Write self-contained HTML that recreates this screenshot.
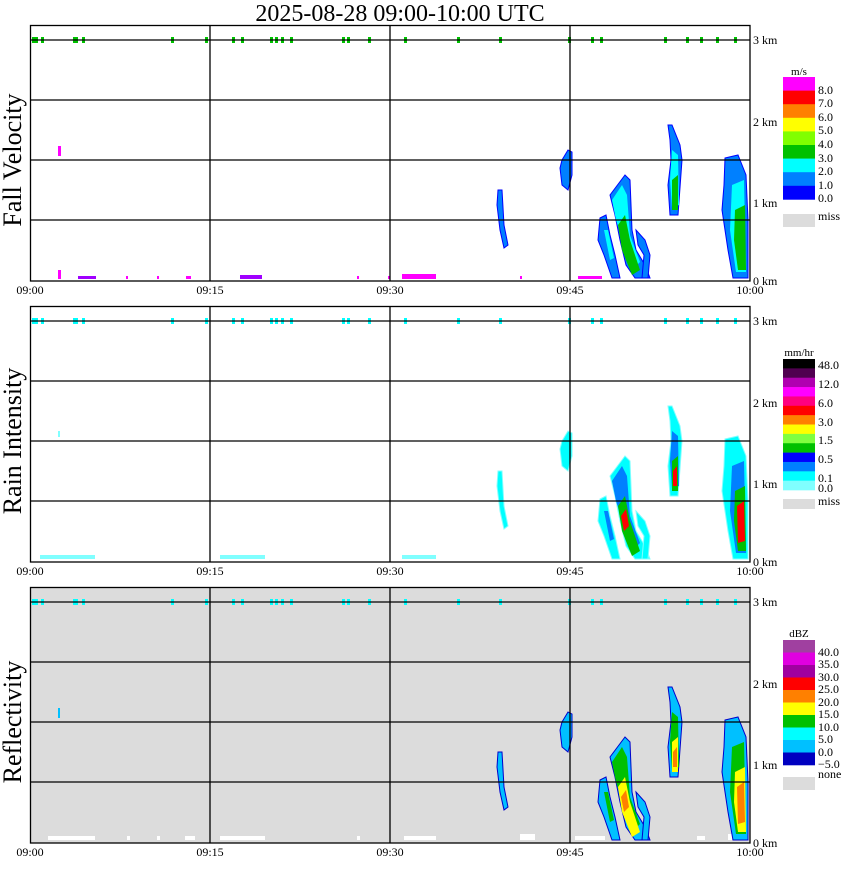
<!DOCTYPE html>
<html><head><meta charset="utf-8"><style>
body{margin:0;background:#fff;width:850px;height:868px;overflow:hidden}
svg text{font-family:"Liberation Serif",serif;fill:#000}
</style></head><body>
<svg id="s" width="850" height="868" xmlns="http://www.w3.org/2000/svg"></svg>
<script>
const S=document.getElementById('s');let h='';
h+='<text x="400" y="21" font-size="24" text-anchor="middle">2025-08-28   09:00-10:00 UTC</text>';
const blobs={
A:"498,190 502,190 504,225 508,245 504,248 500,230 497,205",
B:"562,160 568,150 572,152 572,175 568,190 562,185 560,168",
C:"610,195 625,175 630,180 632,230 636,250 645,265 650,278 635,278 626,265 620,240 615,215",
L:"600,218 606,215 610,235 615,255 620,278 612,278 604,255 598,240",
R:"636,230 645,240 650,255 648,278 642,278 644,255 638,245",
D:"668,125 672,125 680,145 682,160 678,215 670,215 668,185 671,160 670,140",
E:"725,158 738,155 746,175 748,220 748,278 733,278 728,250 722,210 724,185"};
const core1={C:"618,225 625,215 630,240 640,270 632,275 622,250",D:"672,180 678,175 678,210 672,210",E:"735,210 745,205 746,270 738,270 734,240"};
const core2={C:"621,235 626,228 629,245 624,250",D:"673,190 677,185 677,205 673,205",E:"737,225 744,220 745,260 738,262"};
function sh(pts,dy){return pts.split(' ').map(p=>{const[a,b]=p.split(',');return a+','+(+b+dy)}).join(' ')}
const tops=[32,35,41,73,75,82,171,205,232,241,270,275,281,290,342,347,368,404,457,499,568,591,600,664,686,700,716,734];
const panels=[
 {dy:0,bg:'#fff',label:'Fall Velocity',edge:'#0000ff',out:'#0080ff',mid:'#00ffff',c1:'#00c000',c2:'#00c000',top:'#00c000'},
 {dy:281,bg:'#fff',label:'Rain Intensity',edge:'#80ffff',out:'#00ffff',mid:'#0080ff',c1:'#00c000',c2:'#ff0000',top:'#00ffff'},
 {dy:562,bg:'#dcdcdc',label:'Reflectivity',edge:'#0000cc',out:'#00c0ff',mid:'#00c000',c1:'#ffff00',c2:'#ff8000',top:'#00ffff'}];
panels.forEach((p,i)=>{const d=p.dy;
 h+=`<rect x="30" y="${25+d}" width="720" height="256" fill="${p.bg}"/>`;
 if(i==0){[[58,270,3,9,'#ff00ff'],[78,276,18,3,'#a000ff'],[126,276,2,3,'#ff00ff'],[157,276,2,3,'#ff00ff'],[186,276,5,3,'#ff00ff'],[240,275,22,4,'#a000ff'],[357,276,2,3,'#ff00ff'],[388,276,2,3,'#ff00ff'],[402,274,34,5,'#ff00ff'],[520,276,2,3,'#ff00ff'],[578,276,24,3,'#ff00ff'],[58,146,3,10,'#ff00ff']].forEach(r=>h+=`<rect x="${r[0]}" y="${r[1]}" width="${r[2]}" height="${r[3]}" fill="${r[4]}"/>`)}
 if(i==1){[[40,555,55,4],[220,555,45,4],[402,555,34,4],[58,431,2,6]].forEach(r=>h+=`<rect x="${r[0]}" y="${r[1]}" width="${r[2]}" height="${r[3]}" fill="#80ffff"/>`)}
 if(i==2){[[48,836,47,4],[127,836,3,4],[157,836,3,4],[185,836,10,4],[220,836,45,4],[357,836,3,4],[404,836,32,4],[520,834,15,6],[575,836,30,4],[697,836,8,4],[728,834,4,6]].forEach(r=>h+=`<rect x="${r[0]}" y="${r[1]}" width="${r[2]}" height="${r[3]}" fill="#fff"/>`);h+=`<rect x="58" y="708" width="2" height="10" fill="#00c0ff"/>`}
 for(const k in blobs){h+=`<polygon points="${sh(blobs[k],d)}" fill="${p.out}" stroke="${p.edge}" stroke-width="1"/>`}
 h+=`<polygon points="${sh("612,200 622,185 627,195 630,235 640,262 634,268 624,245 616,220",d)}" fill="${p.mid}"/>`;
 h+=`<polygon points="${sh("672,150 678,155 679,205 672,208 670,180",d)}" fill="${p.mid}"/>`;
 h+=`<polygon points="${sh("732,185 744,180 746,272 736,272 730,230",d)}" fill="${p.mid}"/>`;
 h+=`<polygon points="${sh("604,230 608,230 614,258 610,260",d)}" fill="${p.mid}"/>`;
 for(const k in core1)h+=`<polygon points="${sh(core1[k],d)}" fill="${p.c1}"/>`;
 for(const k in core2)h+=`<polygon points="${sh(core2[k],d)}" fill="${p.c2}"/>`;
 tops.forEach(x=>h+=`<rect x="${x}" y="${37+d}" width="3" height="6" fill="${p.top}"/>`);
 [40,100,160,220].forEach(y=>h+=`<line x1="30" x2="750" y1="${y+d}" y2="${y+d}" stroke="#000" stroke-width="1.3"/>`);
 [210,390,570].forEach(x=>h+=`<line x1="${x}" x2="${x}" y1="${25+d}" y2="${281+d}" stroke="#000" stroke-width="1.3"/>`);
 h+=`<rect x="30.5" y="${25.5+d}" width="719.5" height="255.5" fill="none" stroke="#000" stroke-width="1.3"/>`;
 [['3 km',44],['2 km',126],['1 km',207],['0 km',285]].forEach(t=>h+=`<text x="753" y="${t[1]+d}" font-size="12">${t[0]}</text>`);
 [['09:00',30],['09:15',210],['09:30',390],['09:45',570],['10:00',750]].forEach(t=>h+=`<text x="${t[1]}" y="${294+d}" font-size="12" text-anchor="middle">${t[0]}</text>`);
 h+=`<text transform="translate(21,${160+d}) rotate(-90)" font-size="26" text-anchor="middle">${p.label}</text>`;
});
function leg(y0,hh,cols,labels,unit,uy,my,mh,mname){
 cols.forEach((c,j)=>h+=`<rect x="783" y="${y0+j*hh}" width="32" height="${hh+0.3}" fill="${c}"/>`);
 h+=`<text x="799" y="${uy}" font-size="11" text-anchor="middle">${unit}</text>`;
 labels.forEach(l=>h+=`<text x="818" y="${l[1]}" font-size="12">${l[0]}</text>`);
 h+=`<rect x="783" y="${my}" width="32" height="${mh}" fill="#dcdcdc"/><text x="818" y="${my+6}" font-size="12">${mname}</text>`;
}
leg(77,13.6,['#ff00ff','#ff0000','#ff8000','#ffff00','#80ff00','#00c000','#00ffff','#0080ff','#0000ff'],
 [['8.0',94],['7.0',107],['6.0',121],['5.0',134],['4.0',148],['3.0',162],['2.0',175],['1.0',189],['0.0',202]],'m/s',75,214,13,'miss');
leg(359,9.36,['#000000','#500050','#b000b0','#ff00ff','#ff0080','#ff0000','#ff8000','#ffff00','#80ff40','#00c000','#0000ff','#0080ff','#00ffff','#80ffff'],
 [['48.0',369],['12.0',388],['6.0',407],['3.0',426],['1.5',444],['0.5',463],['0.1',482],['0.0',492]],'mm/hr',356,499,10,'miss');
leg(640,12.5,['#a040a0','#e000e0','#a000a0','#ff0000','#ff8000','#ffff00','#00c000','#00ffff','#00c0ff','#0000c0'],
 [['40.0',656],['35.0',668],['30.0',681],['25.0',693],['20.0',706],['15.0',718],['10.0',731],['5.0',743],['0.0',756],['\u22125.0',768],['none',778]],'dBZ',637,777,13,'');
S.innerHTML=h;
</script>
</body></html>
